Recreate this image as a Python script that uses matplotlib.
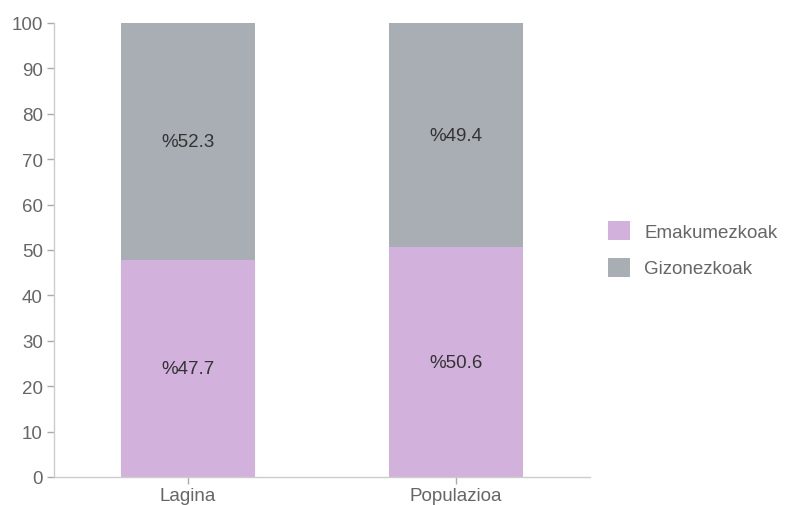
import matplotlib
matplotlib.use("Agg")
import matplotlib.pyplot as plt
from matplotlib.patches import Patch

categories = ["Lagina", "Populazioa"]
emakume = [47.7, 50.6]
gizon = [52.3, 49.4]
series_names = ["Emakumezkoak", "Gizonezkoak"]
yticks = [0, 10, 20, 30, 40, 50, 60, 70, 80, 90, 100]

c_purple = "#d2b1dc"
c_grey = "#a9aeb5"

plt.rcParams['font.family'] = ['Liberation Sans', 'DejaVu Sans']

fig = plt.figure(figsize=(8.05, 5.06), dpi=100)
ax = fig.add_axes([54/805, 1-478/506, (590-54)/805, (478-24)/506])

x = list(range(len(categories)))
ax.bar(x, emakume, width=0.5, color=c_purple, edgecolor='none')
ax.bar(x, gizon, width=0.5, bottom=emakume, color=c_grey, edgecolor='none')

for i in x:
    ax.text(i, emakume[i]/2, f"%{emakume[i]}", ha='center', va='center', fontsize=13.5, color='#333333')
    ax.text(i, emakume[i] + gizon[i]/2, f"%{gizon[i]}", ha='center', va='center', fontsize=13.5, color='#333333')

ax.set_xlim(-0.5, 1.5)
ax.set_ylim(0, 100)
ax.set_yticks(yticks)
ax.set_xticks(x)
ax.set_xticklabels(categories)
for s in ['top', 'right']:
    ax.spines[s].set_visible(False)
for s in ['left', 'bottom']:
    ax.spines[s].set_color('#cccccc')
    ax.spines[s].set_linewidth(1)
ax.tick_params(axis='both', colors='#aaaaaa', length=5, width=1, labelcolor='#666666')
ax.tick_params(axis='y', pad=3, labelsize=13.5)
ax.tick_params(axis='x', pad=2, labelsize=13.5)

handles = [Patch(facecolor=c_purple, edgecolor='none'), Patch(facecolor=c_grey, edgecolor='none')]
leg = fig.legend(handles, series_names, loc='upper left', bbox_to_anchor=(604/805, 1-218/506),
                 frameon=False, fontsize=13.5, handlelength=1.2, handleheight=1.2,
                 handletextpad=0.75, labelspacing=0.9, borderaxespad=0, borderpad=0.2)
for t in leg.get_texts():
    t.set_color('#666666')

fig.savefig("out.png", dpi=100)
